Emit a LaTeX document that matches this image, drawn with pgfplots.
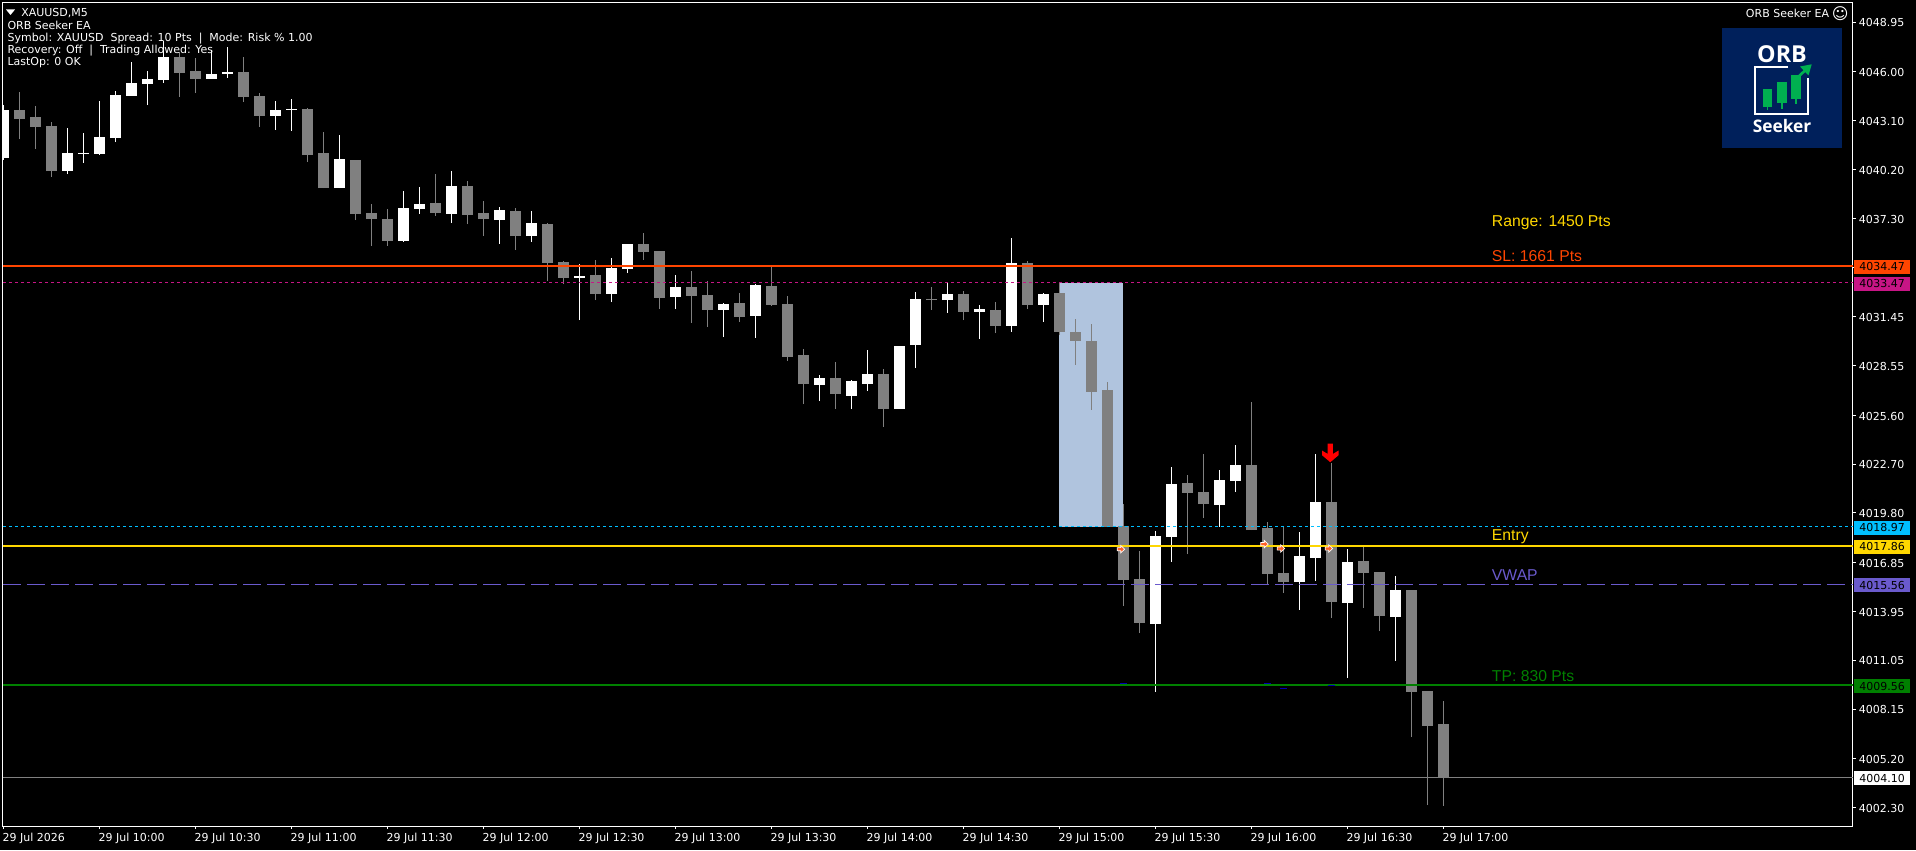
\documentclass[border=0pt]{standalone}
\usepackage{fontspec}
\usepackage{pgfplots}
\usepackage{pgfplotstable}
\pgfplotsset{compat=1.18}
\setmainfont{DejaVu Sans}
\newfontfamily\arialf{Liberation Sans}
\newfontfamily\logof{Open Sans}
\newcommand{\uif}{\fontsize{8.25}{10}\selectfont}

\definecolor{bodygray}{HTML}{808080}
\definecolor{slcol}{HTML}{FF4500}
\definecolor{magcol}{HTML}{C71585}
\definecolor{bluecol}{HTML}{00BFFF}
\definecolor{entrycol}{HTML}{FFD700}
\definecolor{vwapcol}{HTML}{6A5ACD}
\definecolor{tpcol}{HTML}{008000}
\definecolor{rangecol}{HTML}{B0C4DE}
\definecolor{logobg}{HTML}{00205B}
\definecolor{logogreen}{HTML}{00B050}

% i open high low close
\pgfplotstableread{
i open high low close
0 4040.90 4044.03 4040.77 4043.74
4 4040.11 4042.67 4039.93 4041.18
5 4041.12 4042.37 4040.59 4041.18
6 4041.12 4044.27 4041.06 4042.13
7 4042.07 4044.86 4041.83 4044.63
8 4044.57 4046.59 4044.57 4045.34
9 4045.28 4046.05 4044.03 4045.58
10 4045.52 4047.83 4045.34 4046.88
13 4045.58 4047.30 4045.58 4045.87
14 4045.87 4047.48 4045.64 4045.99
17 4043.38 4044.27 4042.55 4043.74
18 4043.74 4044.39 4042.49 4043.80
21 4039.10 4042.25 4039.10 4040.83
25 4035.95 4038.93 4035.90 4037.92
26 4037.86 4039.16 4037.56 4038.15
28 4037.56 4040.11 4037.02 4039.22
31 4037.20 4037.97 4035.78 4037.80
33 4036.25 4037.74 4035.90 4037.02
36 4033.76 4034.59 4031.26 4033.88
38 4032.81 4034.95 4032.33 4034.35
39 4034.29 4035.78 4034.05 4035.78
42 4032.63 4033.94 4031.92 4033.22
45 4031.86 4032.27 4030.25 4032.21
47 4031.50 4033.40 4030.20 4033.34
51 4027.40 4028.00 4026.45 4027.82
53 4026.75 4027.70 4025.98 4027.64
54 4027.46 4029.48 4027.05 4028.06
56 4025.98 4029.72 4025.98 4029.72
57 4029.78 4032.93 4028.41 4032.51
59 4032.45 4033.52 4031.68 4032.81
61 4031.74 4032.16 4030.14 4031.92
63 4030.91 4036.14 4030.55 4034.65
65 4032.16 4032.87 4031.15 4032.81
72 4013.21 4018.73 4009.17 4018.43
73 4018.37 4022.53 4016.89 4021.52
76 4020.27 4022.35 4018.97 4021.76
77 4021.70 4023.84 4021.05 4022.65
81 4015.70 4018.67 4014.04 4017.25
82 4017.13 4023.30 4015.76 4020.45
84 4014.45 4017.66 4010.00 4016.89
87 4013.62 4016.06 4011.01 4015.23
}\bull

\pgfplotstableread{
i open high low close
1 4043.74 4044.79 4042.01 4043.20
2 4043.32 4043.97 4041.42 4042.73
3 4042.79 4043.02 4039.76 4040.11
11 4046.88 4047.20 4044.51 4045.93
12 4046.05 4046.83 4044.75 4045.58
15 4045.99 4046.88 4044.21 4044.51
16 4044.57 4044.75 4042.73 4043.38
19 4043.80 4043.86 4040.65 4041.06
20 4041.18 4042.43 4039.10 4039.10
22 4040.77 4040.77 4037.20 4037.56
23 4037.62 4038.15 4035.66 4037.26
24 4037.26 4037.86 4035.66 4035.95
27 4038.21 4039.93 4037.44 4037.62
29 4039.22 4039.52 4036.96 4037.50
30 4037.62 4038.33 4036.25 4037.26
32 4037.74 4037.92 4035.42 4036.25
34 4036.96 4037.02 4033.58 4034.65
35 4034.71 4034.77 4033.40 4033.76
37 4033.94 4034.83 4032.45 4032.81
40 4035.78 4036.43 4034.83 4035.30
41 4035.36 4035.36 4031.92 4032.57
43 4033.22 4034.18 4031.09 4032.69
44 4032.75 4033.58 4030.85 4031.86
46 4032.27 4032.87 4031.15 4031.44
48 4033.28 4034.47 4032.10 4032.16
49 4032.21 4032.69 4028.83 4029.07
50 4029.19 4029.54 4026.27 4027.46
52 4027.82 4028.77 4025.98 4026.87
55 4028.06 4028.35 4024.91 4025.98
58 4032.51 4033.22 4031.86 4032.45
60 4032.81 4032.99 4031.26 4031.74
62 4031.86 4032.33 4030.49 4030.91
64 4034.65 4034.77 4031.92 4032.16
66 4032.87 4033.46 4030.37 4030.55
67 4030.55 4031.32 4028.59 4030.02
68 4030.02 4031.03 4025.92 4026.99
69 4027.11 4027.58 4018.95 4018.95
70 4019.03 4020.33 4014.27 4015.82
71 4015.88 4017.54 4012.67 4013.27
74 4021.58 4022.06 4017.36 4020.99
75 4021.05 4023.30 4019.50 4020.33
78 4022.65 4026.39 4018.79 4018.79
79 4018.91 4019.26 4015.56 4016.18
80 4016.24 4018.97 4015.05 4015.70
83 4020.45 4022.79 4013.56 4014.51
85 4016.95 4017.84 4014.16 4016.24
86 4016.29 4016.29 4012.79 4013.68
88 4015.23 4015.23 4006.49 4009.17
89 4009.23 4009.23 4002.45 4007.15
90 4007.27 4008.63 4002.40 4004.10
}\bear

\pgfdeclareplotmark{entryarrow}{%
  \pgfpathmoveto{\pgfqpoint{-2.6pt}{-1.2pt}}%
  \pgfpathlineto{\pgfqpoint{0pt}{-1.2pt}}%
  \pgfpathlineto{\pgfqpoint{0pt}{-2.8pt}}%
  \pgfpathlineto{\pgfqpoint{3pt}{0pt}}%
  \pgfpathlineto{\pgfqpoint{0pt}{2.8pt}}%
  \pgfpathlineto{\pgfqpoint{0pt}{1.2pt}}%
  \pgfpathlineto{\pgfqpoint{-2.6pt}{1.2pt}}%
  \pgfpathclose
  \pgfusepathqfillstroke
}
\pgfdeclareplotmark{sellarrow}{%
  \pgfpathmoveto{\pgfqpoint{-2pt}{7pt}}%
  \pgfpathlineto{\pgfqpoint{2pt}{7pt}}%
  \pgfpathlineto{\pgfqpoint{2pt}{-0.75pt}}%
  \pgfpathlineto{\pgfqpoint{6.2pt}{1.75pt}}%
  \pgfpathlineto{\pgfqpoint{6.2pt}{-1.75pt}}%
  \pgfpathlineto{\pgfqpoint{0pt}{-7pt}}%
  \pgfpathlineto{\pgfqpoint{-6.2pt}{-1.75pt}}%
  \pgfpathlineto{\pgfqpoint{-6.2pt}{1.75pt}}%
  \pgfpathlineto{\pgfqpoint{-2pt}{-0.75pt}}%
  \pgfpathclose
  \pgfusepathqfill
}

\newcommand{\pricetag}[3]{%
  \node[fill=#2, text=#3, inner sep=0pt, minimum width=42pt, minimum height=10.5pt,
        anchor=west, yshift=-0.75pt, font=\uif] at (axis cs:115.67,#1) {#1};}
\newcommand{\chartlabel}[3]{%
  \node[text=#3, inner sep=0pt, anchor=base west, font=\arialf\fontsize{11.8}{14}\selectfont]
    at (axis cs:93.03,#1) {#2};}

\pgfplotsset{
  wick/.style={draw=none, forget plot, error bars/.cd, y dir=plus, y explicit, error mark=none,
    error bar style={#1, line width=0.75pt}},
  body/.style={draw=none, forget plot, error bars/.cd, y dir=plus, y explicit, error mark=none,
    error bar style={#1, line width=8.25pt}},
}

\begin{document}
\begin{tikzpicture}
\begin{scope}[x=0.75pt,y=-0.75pt,shift={(-2.25pt,619.5pt)}]
  \path[use as bounding box, fill=black] (0,0) rectangle (1916,850);
\end{scope}

\begin{axis}[
  at={(0pt,0pt)}, anchor=south west, scale only axis,
  width=1387.5pt, height=617.625pt,
  xmin=-0.019, xmax=115.61, ymin=4001.21, ymax=4050.12,
  clip mode=individual,
  axis line style={white, line width=0.75pt},
  tick style={white, line width=0.75pt},
  major tick length=2.25pt,
  tick align=outside,
  xtick pos=lower, ytick pos=upper,
  tick label style={white, font=\uif},
  xtick={0,6,...,90},
  xticklabels={29 Jul 2026,29 Jul 10:00,29 Jul 10:30,29 Jul 11:00,29 Jul 11:30,29 Jul 12:00,29 Jul 12:30,29 Jul 13:00,29 Jul 13:30,29 Jul 14:00,29 Jul 14:30,29 Jul 15:00,29 Jul 15:30,29 Jul 16:00,29 Jul 16:30,29 Jul 17:00},
  xticklabel style={anchor=north west, inner sep=0pt, xshift=-0.75pt, yshift=-2.5pt, text height=7pt, text depth=1.5pt},
  ytick={4048.95,4046.00,4043.10,4040.20,4037.30,4034.40,4031.45,4028.55,4025.60,4022.70,4019.80,4016.85,4013.95,4011.05,4008.15,4005.20,4002.30},
  yticklabels={4048.95,4046.00,4043.10,4040.20,4037.30,,4031.45,4028.55,4025.60,4022.70,4019.80,4016.85,4013.95,4011.05,4008.15,4005.20,4002.30},
  yticklabel style={anchor=west, inner sep=0pt, xshift=2pt, yshift=-0.5pt},
]
% opening range box
\addplot[fill=rangecol, draw=none, forget plot] coordinates {(66,4033.47) (70,4033.47) (70,4018.97) (66,4018.97)} -- cycle;

% candles: wicks, then bodies
\addplot[wick=bodygray] table[x=i, y=low, y error plus expr=\thisrow{high}-\thisrow{low}] {\bear};
\addplot[wick=white] table[x=i, y=low, y error plus expr=\thisrow{high}-\thisrow{low}] {\bull};
\addplot[body=bodygray] table[x=i, y=close, y error plus expr=\thisrow{open}-\thisrow{close}] {\bear};
\addplot[body=white] table[x=i, y=open, y error plus expr=\thisrow{close}-\thisrow{open}] {\bull};

% level lines
\addplot[bodygray, line width=0.75pt, forget plot] coordinates {(-0.019,4004.10) (115.61,4004.10)};
\addplot[magcol, line width=0.75pt, dash pattern=on 2.25pt off 2.25pt, forget plot] coordinates {(-0.019,4033.47) (115.61,4033.47)};
\addplot[bluecol, line width=0.75pt, dash pattern=on 2.25pt off 2.25pt, forget plot] coordinates {(-0.019,4018.97) (115.61,4018.97)};
\addplot[vwapcol, line width=0.75pt, dash pattern=on 13.5pt off 4.5pt, forget plot] coordinates {(-0.019,4015.56) (115.61,4015.56)};
\addplot[slcol, line width=1.5pt, forget plot] coordinates {(-0.019,4034.47) (115.61,4034.47)};
\addplot[entrycol, line width=1.5pt, forget plot] coordinates {(-0.019,4017.86) (115.61,4017.86)};
\addplot[tpcol, line width=1.5pt, forget plot] coordinates {(-0.019,4009.56) (115.61,4009.56)};

% order marks
\addplot[only marks, mark=-, mark size=2.6pt, blue!70!black, line width=0.75pt, forget plot] coordinates {(70,4009.65) (79,4009.65) (80,4009.38) (83,4009.56)};
\addplot[only marks, mark=entryarrow, mark options={draw=white, fill=slcol!85!white, line width=0.5pt}, forget plot] coordinates {(69.84,4017.65) (78.81,4017.95) (79.84,4017.69) (82.84,4017.69)};
\addplot[only marks, mark=sellarrow, mark options={fill=red, draw=none}, forget plot] coordinates {(82.94,4023.37)};

% price tags
\pricetag{4034.47}{slcol}{black}
\pricetag{4033.47}{magcol}{black}
\pricetag{4018.97}{bluecol}{black}
\pricetag{4017.86}{entrycol}{black}
\pricetag{4015.56}{vwapcol}{black}
\pricetag{4009.56}{tpcol}{black}
\pricetag{4004.10}{white}{black}

% text on the chart
\chartlabel{4036.80}{Range: 1450 Pts}{entrycol}
\chartlabel{4034.73}{SL: 1661 Pts}{slcol}
\chartlabel{4018.15}{Entry}{entrycol}
\chartlabel{4015.82}{VWAP}{vwapcol}
\chartlabel{4009.82}{TP: 830 Pts}{tpcol}
\end{axis}

% header and logo, in reference pixels
\begin{scope}[x=0.75pt,y=-0.75pt,shift={(-2.25pt,619.5pt)}]
  \fill[white] (6,9.5) -- (15,9.5) -- (10.5,15) -- cycle;
  \tikzset{hdr/.style={white, anchor=base west, inner sep=0pt, font=\uif}}
  \node[hdr] at (21,17) {XAUUSD,M5};
  \node[hdr] at (7.3,30) {ORB Seeker EA};
  \node[hdr] at (7.3,42) {Symbol: XAUUSD\ \ Spread: 10 Pts\ \ |\ \ Mode: Risk \% 1.00};
  \node[hdr] at (7.3,54) {Recovery: Off\ \ |\ \ Trading Allowed: Yes};
  \node[hdr] at (7.3,66) {LastOp: 0 OK};
  \node[hdr] at (1745.7,18) {ORB Seeker EA};
  \node[white, inner sep=0pt, font=\fontsize{12}{14}\selectfont] at (1840.3,14) {☺};

  \fill[logobg] (1722,28) rectangle (1841.7,147.7);
  \node[white, inner sep=0pt, font=\logof\bfseries\fontsize{17.5}{18}\selectfont] at (1782,54.3) {ORB};
  \node[white, inner sep=0pt, font=\logof\bfseries\fontsize{13}{14}\selectfont] at (1782,126) {Seeker};
  \draw[white, line width=1.5pt] (1788.3,67.3) -- (1755.3,67.3) -- (1755.3,114) -- (1808.3,114) -- (1808.3,78.3);
  \fill[logogreen] (1763,89.3) rectangle (1772.3,106.7);
  \fill[logogreen] (1777,82) rectangle (1787,103.3);
  \fill[logogreen] (1791,74.7) rectangle (1801,99);
  \draw[logogreen, line width=0.9pt] (1767.7,106) -- (1767.7,110) (1782,103) -- (1782,109) (1796,99) -- (1796,104.3);
  \draw[logogreen, line width=2pt] (1795,80) -- (1806,69.5);
  \fill[logogreen] (1811.7,64.3) -- (1800,66.5) -- (1808.5,75.5) -- cycle;
\end{scope}
\end{tikzpicture}
\end{document}
